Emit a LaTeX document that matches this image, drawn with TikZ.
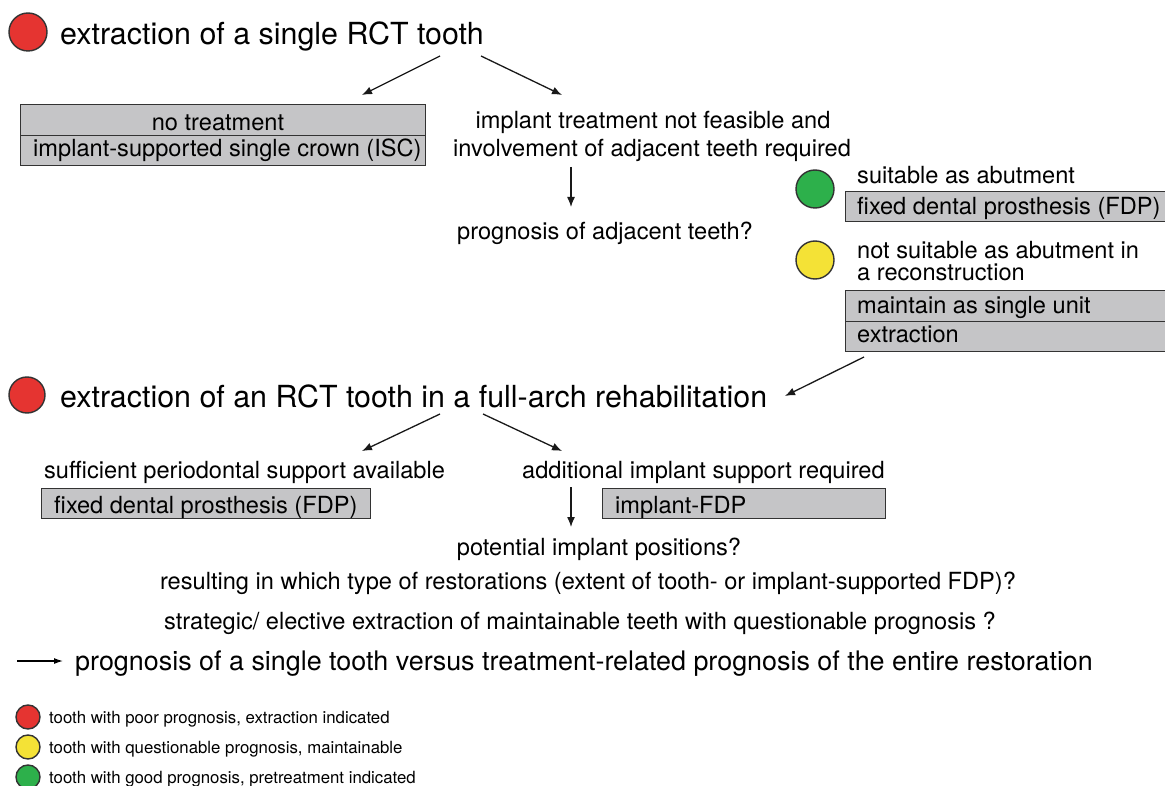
\documentclass[tikz,border=0pt]{standalone}
\usepackage{fontspec}
\setmainfont{TeX Gyre Heros}
\usetikzlibrary{arrows.meta}
\definecolor{rRed}{HTML}{E53431}
\definecolor{rYel}{HTML}{F4E236}
\definecolor{rGrn}{HTML}{2DB04B}
\definecolor{boxgray}{HTML}{C5C5C7}
\definecolor{edge}{HTML}{333333}
\tikzset{
  fT/.style={font=\fontsize{30.4}{34}\selectfont},
  fM/.style={font=\fontsize{23.6}{27}\selectfont},
  fB/.style={font=\fontsize{26.9}{30}\selectfont},
  fL/.style={font=\fontsize{16.8}{19}\selectfont},
  txt/.style={inner sep=0pt, anchor=base west},
  ctxt/.style={inner sep=0pt, anchor=base},
  dot/.style={circle, draw=edge, line width=1.4pt, inner sep=0pt},
  gbox/.style={draw=edge, fill=boxgray, line width=1.4pt, anchor=north west, inner sep=0pt},
  arr/.style={-{Latex[length=10pt,width=8pt]}, line width=1.3pt, draw=black!90},
}
\begin{document}
\begin{tikzpicture}[x=1pt,y=-1pt]
\useasboundingbox (0,0) rectangle (1165,786);

% --- first section
\node[dot, fill=rRed, minimum size=38pt] (c1) at (28,32) {};
\node[txt, fT] (t1) at (60,45) {extraction of a single RCT tooth};
\coordinate (a1s) at (440,56);
\coordinate (a1e) at (362,95);
\coordinate (a2s) at (481,56);
\coordinate (a2e) at (562,95);
\draw[arr] (a1s) -- (a1e);
\draw[arr] (a2s) -- (a2e);

\node[gbox, minimum width=405pt, minimum height=31pt] (nt) at (20,104) {};
\node[gbox, minimum width=405pt, minimum height=30pt] (isc) at (20,135) {};
\node[ctxt, fM] (ntt) at (218,131) {no treatment};
\node[txt, fM] (isct) at (33,157) {implant-supported single crown (ISC)};

\node[ctxt, fM] (inf1) at (653,129) {implant treatment not feasible and};
\node[ctxt, fM] (inf2) at (652,157) {involvement of adjacent teeth required};
\coordinate (d1s) at (571,167);
\coordinate (d1e) at (571,207);
\draw[arr] (d1s) -- (d1e);
\node[ctxt, fM] (prog) at (605,240) {prognosis of adjacent teeth?};

\node[dot, fill=rGrn, minimum size=38pt] (cg) at (815,189) {};
\node[txt, fM] (suit) at (857,184) {suitable as abutment};
\node[gbox, minimum width=321pt, minimum height=30pt] (fdp1) at (845,191) {};
\node[txt, fM] (fdp1t) at (857,215) {fixed dental prosthesis (FDP)};

\node[dot, fill=rYel, minimum size=38pt] (cy) at (815,260) {};
\node[txt, fM] (ns1) at (857,259) {not suitable as abutment in};
\node[txt, fM] (ns2) at (857,281) {a reconstruction};
\node[gbox, minimum width=321pt, minimum height=31pt] (msu) at (845,290) {};
\node[gbox, minimum width=321pt, minimum height=30pt] (ext) at (845,321) {};
\node[txt, fM] (msut) at (857,314) {maintain as single unit};
\node[txt, fM] (extt) at (857,343) {extraction};
\coordinate (a3s) at (864,357);
\coordinate (a3e) at (785,396);
\draw[arr] (a3s) -- (a3e);

% --- second section
\node[dot, fill=rRed, minimum size=36pt] (c2) at (27,395) {};
\node[txt, fT] (t2) at (60,407) {extraction of an RCT tooth in a full-arch rehabilitation};
\coordinate (b1s) at (440,414);
\coordinate (b1e) at (362,451);
\coordinate (b2s) at (483,414);
\coordinate (b2e) at (562,451);
\draw[arr] (b1s) -- (b1e);
\draw[arr] (b2s) -- (b2e);

\node[txt, fM] (suff) at (44,478) {sufficient periodontal support available};
\node[gbox, minimum width=329pt, minimum height=30pt] (fdp2) at (41,488) {};
\node[txt, fM] (fdp2t) at (54,513) {fixed dental prosthesis (FDP)};
\node[txt, fM] (add) at (522,478) {additional implant support required};
\node[gbox, minimum width=283pt, minimum height=30pt] (ifdp) at (602,488) {};
\node[txt, fM] (ifdpt) at (615,513) {implant-FDP};
\coordinate (d2s) at (571,487);
\coordinate (d2e) at (571,527);
\draw[arr] (d2s) -- (d2e);

\node[ctxt, fM] (pos) at (599,555) {potential implant positions?};
\node[ctxt, fM] (res) at (588,589) {resulting in which type of restorations (extent of tooth- or implant-supported FDP)?};
\node[ctxt, fM] (str) at (580,629) {strategic/ elective extraction of maintainable teeth with questionable prognosis ?};

\coordinate (e1s) at (17,661);
\coordinate (e1e) at (63,661);
\draw[-{Latex[length=9pt,width=6pt]}, line width=1.2pt] (e1s) -- (e1e);
\node[txt, fB] (ver) at (75,670) {prognosis of a single tooth versus treatment-related prognosis of the entire restoration};

% --- legend
\node[dot, fill=rRed, minimum size=24pt] (l1) at (28,717) {};
\node[txt, fL] (lt1) at (49,723) {tooth with poor prognosis, extraction indicated};
\node[dot, fill=rYel, minimum size=24pt] (l2) at (28,747) {};
\node[txt, fL] (lt2) at (49,753) {tooth with questionable prognosis, maintainable};
\node[dot, fill=rGrn, minimum size=24pt] (l3) at (28,777) {};
\node[txt, fL] (lt3) at (49,783) {tooth with good prognosis, pretreatment indicated};
\end{tikzpicture}
\end{document}
